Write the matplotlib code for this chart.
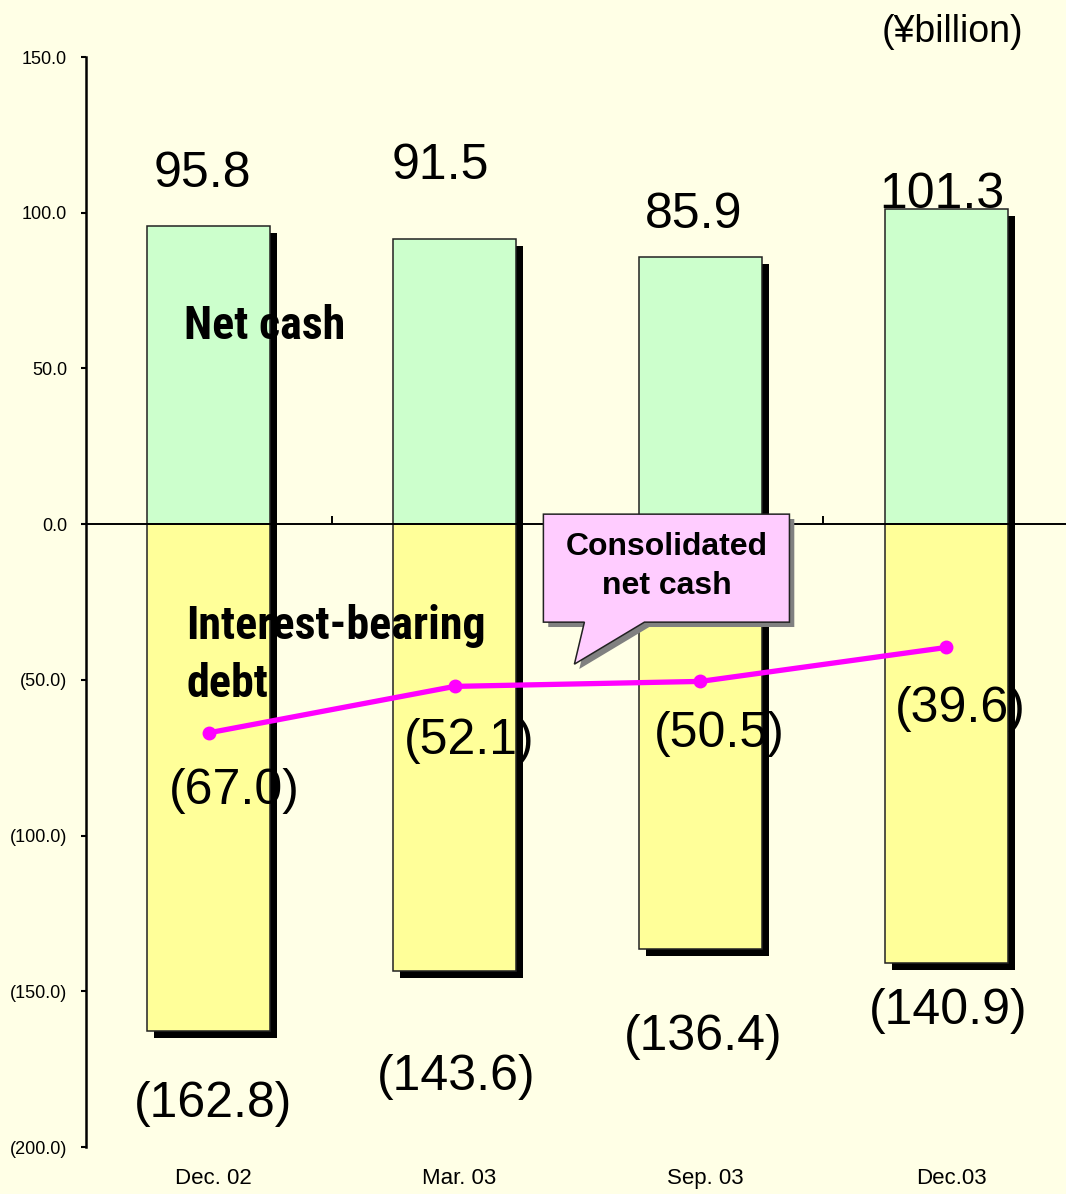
import matplotlib
matplotlib.use('Agg')
import matplotlib.pyplot as plt
from matplotlib.patches import Polygon
import matplotlib.patheffects as pe
from matplotlib.transforms import blended_transform_factory
from matplotlib.ticker import FixedLocator, NullLocator
from matplotlib import font_manager as fm

# ---------------- data ----------------
categories = ['Dec. 02', 'Mar. 03', 'Sep. 03', 'Dec.03']
net_cash = [95.8, 91.5, 85.9, 101.3]
debt = [-162.8, -143.6, -136.4, -140.9]
consolidated = [-67.0, -52.1, -50.5, -39.6]
ytick_values = [150, 100, 50, 0, -50, -100, -150, -200]
ytick_labels = ['150.0', '100.0', '50.0', '0.0', '(50.0)', '(100.0)', '(150.0)', '(200.0)']

# label offsets in pixels (dx, dy) relative to the bar end / point
pos_label_off = [(-7, 52), (-14, 73), (-7, 42), (-4, 14)]
neg_label_off = [(4, -73), (2, -106), (3, -88), (2, -48)]
line_label_off = [(25, -58), (15, -55), (19, -53), (14, -62)]

BG = '#FFFFE6'
GREEN = '#CCFFCC'
YELLOW = '#FFFF99'
PINK = '#FFCCFF'
MAGENTA = '#FF00FF'

def fmt(v):
    return f'{v:.1f}' if v >= 0 else f'({-v:.1f})'

# find a condensed bold font if one exists
def find_narrow_bold():
    prefs = ['Liberation Sans Narrow', 'Roboto Condensed', 'Open Sans Condensed',
             'DejaVu Sans Condensed', 'Noto Sans Condensed']
    found = []
    for f in fm.fontManager.ttflist:
        fname = f.fname.lower()
        if ('narrow' in fname or 'condensed' in fname) and 'bold' in fname and 'italic' not in fname \
                and 'oblique' not in fname and 'semi' not in fname and 'extra' not in fname:
            found.append(f)
    for p in prefs:
        key = p.lower().replace(' ', '')
        for f in found:
            if key.split('sans')[0] in f.fname.lower().replace('-', '').replace('_', ''):
                return f.fname
    return found[0].fname if found else None

narrow_file = find_narrow_bold()

W, H = 1066, 1194
fig = plt.figure(figsize=(W / 100, H / 100), dpi=100, facecolor=BG)
ax = fig.add_axes([86 / W, 1 - 1147 / H, 983 / W, (1147 - 57) / H])
ax.set_facecolor(BG)
ax.set_xlim(-0.5, 3.5)
ax.set_ylim(-200, 150)

x = list(range(len(categories)))
shadow = [pe.SimplePatchShadow(offset=(5, -5), shadow_rgbFace='black', alpha=1.0), pe.Normal()]

bp = ax.bar(x, net_cash, width=0.5, color=GREEN, edgecolor='#222222', linewidth=1.1, zorder=2)
bn = ax.bar(x, debt, width=0.5, color=YELLOW, edgecolor='#222222', linewidth=1.1, zorder=2.1)
for b in list(bp) + list(bn):
    b.set_path_effects(shadow)

ax.plot(x, consolidated, color=MAGENTA, lw=3.8, marker='o', ms=9, zorder=4)

numfont = dict(family=['Liberation Sans', 'DejaVu Sans'], fontsize=36, color='black')
for i in x:
    ax.annotate(fmt(net_cash[i]), (i, net_cash[i]), xytext=pos_label_off[i],
                textcoords='offset pixels', ha='center', va='center', zorder=6, **numfont)
    ax.annotate(fmt(debt[i]), (i, debt[i]), xytext=neg_label_off[i],
                textcoords='offset pixels', ha='center', va='center', zorder=6, **numfont)
    ax.annotate(fmt(consolidated[i]), (i, consolidated[i]), xytext=line_label_off[i],
                textcoords='offset pixels', ha='center', va='center', zorder=6, **numfont)

# axes styling
for s in ['top', 'right']:
    ax.spines[s].set_visible(False)
ax.spines['left'].set_linewidth(1.8)
ax.spines['left'].set_position(('data', -0.5))
ax.spines['bottom'].set_position(('data', 0))
ax.spines['bottom'].set_linewidth(1.4)
ax.spines['bottom'].set_zorder(5)

ax.yaxis.set_major_locator(FixedLocator(ytick_values))
ax.set_yticklabels(ytick_labels, family=['Liberation Sans', 'DejaVu Sans'], fontsize=13)
ax.tick_params(axis='y', direction='out', length=3.6, width=1.5, pad=10)

ax.xaxis.set_major_locator(NullLocator())
ax.xaxis.set_minor_locator(FixedLocator([0.5, 1.5, 2.5]))
ax.tick_params(axis='x', which='minor', direction='in', length=6, width=1.4, labelbottom=False)

trans = blended_transform_factory(ax.transData, ax.transAxes)
for i, c in enumerate(categories):
    ax.text(i + 0.02, -0.0385, c, transform=trans, ha='center', va='bottom',
            family=['Liberation Sans', 'DejaVu Sans'], fontsize=16, clip_on=False)

fig.text(952 / W, 1 - 32 / H, '(\u00a5billion)', ha='center', va='center',
         family=['Liberation Sans', 'DejaVu Sans'], fontsize=27)

# helpers to place decorations from reference pixel positions
def px_x(px):
    return (px - 84.7) / 245.7 - 0.5

def px_y(py):
    return (525 - py) / 3.114

if narrow_file:
    narrow = dict(fontproperties=fm.FontProperties(fname=narrow_file, size=33), color='black')
else:
    narrow = dict(family=['Liberation Sans', 'DejaVu Sans'], fontweight='bold', fontsize=33, color='black')
t1 = ax.text(px_x(183), px_y(327), 'Net cash', ha='left', va='center', zorder=7, **narrow)
t2 = ax.text(px_x(185), px_y(627), 'Interest-bearing', ha='left', va='center', zorder=7, **narrow)
t3 = ax.text(px_x(185), px_y(685), 'debt', ha='left', va='center', zorder=7, **narrow)

# fit label widths to the reference
fig.canvas.draw()
r = fig.canvas.get_renderer()
w1 = t1.get_window_extent(r).width
w2 = t2.get_window_extent(r).width
s1 = t1.get_fontsize() * 163 / w1
s2 = t2.get_fontsize() * 297 / w2
s = (s1 + s2) / 2
for t in (t1, t2, t3):
    t.set_fontsize(s)

# callout
pts = [(542, 515), (788, 515), (788, 623), (643, 623), (573, 665), (583, 623), (542, 623)]
callout = Polygon([(px_x(a), px_y(b)) for a, b in pts], closed=True, facecolor=PINK,
                  edgecolor='#222222', linewidth=1.1, zorder=6)
callout.set_path_effects([pe.SimplePatchShadow(offset=(3.5, -3.5), shadow_rgbFace='#808080', alpha=1.0),
                          pe.Normal()])
ax.add_patch(callout)
bold = dict(family=['Liberation Sans', 'DejaVu Sans'], fontweight='bold', fontsize=23, color='black')
ax.text(px_x(665), px_y(548), 'Consolidated', ha='center', va='center', zorder=7, **bold)
ax.text(px_x(665), px_y(587), 'net cash', ha='center', va='center', zorder=7, **bold)

fig.savefig('out.png', dpi=100, facecolor=BG)
